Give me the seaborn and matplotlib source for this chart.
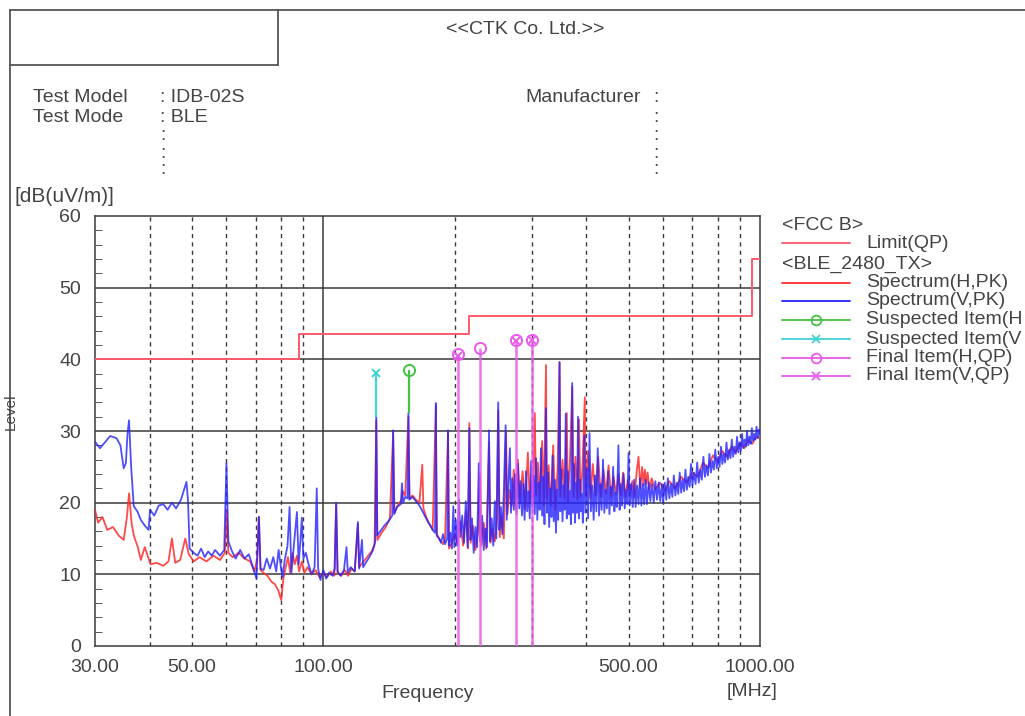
import numpy as np
import pandas as pd
import matplotlib
matplotlib.use("Agg")
import matplotlib.pyplot as plt
from matplotlib.lines import Line2D
from matplotlib.ticker import FixedLocator, NullLocator, MultipleLocator
import seaborn as sns

# limit line (FCC class B, QP), steps-post
limit_freq = [30.0, 88.0, 216.0, 960.0, 1000.0]
limit_level = [40.0, 43.5, 46.0, 54.0, 54.0]

# spectrum, vertical antenna (peak)
spec_v = [
    (30.0, 28.5), (30.8, 27.6), (31.6, 28.4), (32.5, 29.3), (33.6, 29.0), (34.3, 28.0), (34.9, 24.8),
    (35.3, 25.5), (35.6, 29.5), (35.9, 31.5), (36.3, 25.0), (36.8, 19.5), (37.5, 18.8), (38.2, 17.6),
    (39.0, 16.8), (39.8, 16.2), (40.1, 19.0), (41.0, 18.2), (42.0, 19.6), (43.0, 19.8), (44.0, 19.0),
    (45.0, 20.0), (46.0, 19.2), (47.2, 20.4), (48.6, 22.9), (49.0, 20.2), (49.4, 13.6), (50.5, 13.0),
    (51.5, 12.6), (52.5, 13.6), (53.5, 12.4), (54.5, 13.2), (55.5, 12.6), (56.5, 13.4), (58.0, 12.6),
    (59.3, 13.4), (60.0, 25.5), (60.6, 14.6), (61.8, 13.2), (63.0, 12.2), (64.5, 13.4), (66.0, 12.2),
    (67.5, 12.8), (69.0, 11.0), (70.3, 9.4), (71.2, 18.0), (71.8, 10.8), (73.0, 10.6), (74.2, 12.2),
    (75.5, 10.8), (76.8, 12.4), (78.0, 10.4), (79.0, 13.4), (79.8, 11.4), (80.6, 9.6), (81.6, 12.0),
    (82.8, 14.0), (83.7, 19.4), (84.5, 10.2), (85.5, 13.6), (87.0, 18.7), (87.8, 11.4), (88.6, 14.6),
    (89.3, 17.9), (90.0, 12.2), (91.2, 13.0), (92.5, 11.4), (94.0, 10.0), (95.5, 11.0), (96.6, 22.0),
    (97.3, 10.8), (98.5, 9.2), (100.0, 10.6), (101.5, 9.4), (103.0, 10.2), (105.0, 9.8), (106.2, 10.8),
    (107.0, 20.0), (107.8, 10.4), (109.5, 9.8), (111.5, 10.6), (113.0, 13.8), (113.8, 10.2), (115.5, 11.0),
    (118.0, 10.4), (120.0, 17.3), (120.8, 10.8), (122.6, 14.8), (123.4, 11.0), (125.0, 11.6), (127.5, 12.4),
    (130.0, 13.4), (131.5, 14.6), (132.2, 32.0), (132.9, 15.4), (135.0, 16.0), (138.0, 16.8), (141.0, 17.4),
    (143.8, 18.2), (144.5, 30.1), (145.3, 18.4), (147.5, 19.4), (150.5, 19.8), (151.4, 22.7), (152.3, 20.0),
    (154.0, 20.8), (155.8, 20.6), (156.6, 32.5), (157.4, 20.4), (160.0, 20.8), (163.0, 20.2), (166.0, 19.6),
    (168.0, 19.0), (170.0, 18.4), (172.0, 17.8), (174.0, 17.2), (176.0, 16.8), (178.0, 16.2), (180.2, 15.8),
    (181.0, 33.9), (181.8, 15.4), (184.0, 15.0), (186.0, 14.4), (188.0, 15.6), (190.0, 14.2), (192.2, 15.0),
    (193.0, 30.1), (193.8, 14.0), (195.5, 15.8), (197.0, 13.6), (198.5, 19.5), (199.5, 13.8), (201.0, 17.6),
    (202.5, 14.0), (204.5, 20.4), (206.0, 15.2), (208.0, 18.2), (210.0, 14.4), (212.0, 20.2), (214.0, 13.8),
    (216.0, 30.4), (217.2, 14.8), (219.0, 17.8), (221.0, 13.0), (223.0, 16.6), (225.0, 13.8), (227.0, 25.5),
    (228.6, 14.6), (231.0, 18.2), (233.0, 13.4), (235.0, 16.4), (237.0, 13.8), (239.6, 30.1), (241.0, 14.6),
    (243.0, 17.8), (245.0, 14.0), (247.0, 20.2), (249.0, 15.0), (251.5, 34.0), (253.0, 16.2), (255.0, 19.4),
    (257.0, 15.6), (259.0, 21.4), (261.5, 30.8), (263.0, 17.6), (265.0, 22.0), (267.5, 27.6), (269.0, 18.6),
    (271.0, 23.4), (273.0, 19.0), (275.0, 24.0), (277.0, 18.4), (279.0, 25.4), (281.0, 19.2), (283.0, 23.0),
    (285.0, 18.2), (287.0, 22.6), (289.0, 17.6), (291.0, 24.4), (293.0, 18.8), (295.0, 21.6), (297.0, 17.8),
    (299.0, 25.8), (301.0, 19.4), (303.0, 23.8), (305.0, 18.4), (307.0, 26.2), (309.0, 17.6), (311.0, 22.8),
    (313.0, 19.0), (315.0, 27.6), (317.0, 18.2), (319.0, 23.6), (321.0, 17.0), (323.5, 33.2), (325.0, 18.6),
    (327.0, 24.2), (329.0, 16.6), (331.0, 22.0), (333.0, 18.0), (335.0, 26.6), (337.0, 17.4), (339.0, 23.2),
    (341.0, 15.8), (343.0, 21.8), (345.0, 17.6), (347.5, 39.6), (349.0, 18.8), (351.0, 24.6), (353.0, 17.4),
    (355.0, 22.4), (357.0, 19.0), (359.0, 32.4), (361.0, 17.8), (363.0, 24.4), (365.0, 18.4), (367.0, 21.6),
    (369.0, 17.0), (371.5, 36.7), (373.0, 18.6), (375.0, 25.4), (377.0, 17.2), (379.0, 22.8), (381.0, 18.6),
    (383.0, 32.0), (385.0, 17.8), (387.0, 23.2), (389.0, 18.8), (391.0, 21.2), (393.0, 17.2), (396.0, 29.4),
    (398.0, 18.6), (401.0, 24.8), (404.0, 17.8), (407.0, 29.7), (410.0, 18.8), (413.0, 22.4), (416.0, 17.6),
    (419.0, 23.8), (422.0, 18.8), (425.0, 27.6), (428.0, 18.2), (431.0, 22.6), (434.0, 19.0), (437.0, 26.0),
    (440.0, 18.6), (443.0, 21.8), (446.0, 19.2), (449.0, 24.4), (452.0, 18.4), (455.0, 22.2), (458.0, 19.6),
    (461.0, 25.0), (464.0, 18.8), (467.0, 21.4), (470.0, 19.4), (474.0, 28.0), (477.0, 19.0), (480.0, 22.6),
    (483.0, 19.6), (487.0, 24.0), (490.0, 19.2), (494.0, 21.8), (497.0, 19.8), (500.0, 26.9), (503.0, 19.6),
    (507.0, 22.6), (511.0, 19.4), (515.0, 23.2), (519.0, 19.4), (523.0, 22.4), (527.0, 19.8), (531.0, 23.4),
    (535.0, 19.6), (539.0, 22.6), (543.0, 19.8), (547.0, 23.2), (551.0, 19.8), (556.0, 22.8), (561.0, 20.2),
    (566.0, 22.6), (571.0, 20.0), (576.0, 23.0), (581.0, 20.4), (586.0, 22.8), (591.0, 20.2), (596.0, 22.6),
    (600.0, 20.0), (605.0, 22.8), (610.0, 20.4), (615.0, 23.4), (620.0, 20.6), (625.0, 22.6), (630.0, 20.8),
    (635.0, 23.8), (640.0, 21.0), (645.0, 22.8), (650.0, 21.2), (655.0, 24.2), (660.0, 21.4), (665.0, 23.2),
    (670.0, 21.6), (675.0, 24.6), (680.0, 21.8), (685.0, 23.6), (690.0, 22.2), (695.0, 25.4), (700.0, 22.4),
    (706.0, 24.2), (712.0, 22.6), (718.0, 25.6), (724.0, 22.8), (730.0, 24.6), (736.0, 23.2), (742.0, 26.4),
    (748.0, 23.6), (754.0, 25.2), (760.0, 23.8), (766.0, 26.8), (772.0, 24.2), (778.0, 25.8), (784.0, 24.6),
    (790.0, 27.4), (796.0, 24.8), (802.0, 26.4), (808.0, 25.0), (814.0, 27.8), (820.0, 25.4), (826.0, 26.8),
    (832.0, 25.6), (838.0, 28.4), (844.0, 26.0), (850.0, 27.4), (856.0, 26.2), (862.0, 28.8), (868.0, 26.4),
    (874.0, 27.8), (880.0, 26.8), (886.0, 29.2), (892.0, 27.0), (898.0, 28.4), (904.0, 27.2), (910.0, 29.6),
    (916.0, 27.6), (922.0, 28.8), (928.0, 27.8), (934.0, 30.0), (940.0, 28.0), (946.0, 29.2), (952.0, 28.2),
    (958.0, 30.4), (964.0, 28.6), (970.0, 29.6), (976.0, 28.8), (982.0, 30.6), (988.0, 29.0), (994.0, 30.2),
    (1000.0, 29.6),
]

# spectrum, horizontal antenna (peak)
spec_h = [
    (30.0, 19.0), (30.5, 17.2), (31.2, 18.0), (32.0, 16.2), (33.0, 16.6), (34.0, 15.4), (34.9, 14.8),
    (35.5, 18.0), (35.9, 21.3), (36.4, 17.0), (36.9, 15.2), (37.6, 13.8), (38.2, 12.0), (39.0, 13.8),
    (39.6, 12.6), (40.2, 11.4), (41.5, 11.6), (43.0, 11.2), (44.2, 11.8), (45.0, 15.0), (45.8, 11.6),
    (47.0, 12.0), (48.3, 15.0), (49.2, 12.8), (50.5, 11.8), (52.0, 12.4), (54.0, 11.8), (56.0, 12.6),
    (58.0, 12.0), (59.5, 13.0), (60.0, 19.0), (60.6, 13.0), (62.0, 12.4), (64.0, 13.0), (66.0, 12.2),
    (68.0, 11.8), (69.5, 10.4), (70.5, 12.0), (71.2, 18.0), (71.8, 10.6), (73.0, 10.2), (74.5, 9.8),
    (76.0, 9.0), (77.5, 8.6), (78.8, 7.8), (80.1, 6.4), (81.0, 9.4), (82.0, 11.0), (83.0, 12.4),
    (84.0, 10.2), (85.0, 13.0), (86.0, 11.4), (87.0, 12.6), (88.0, 10.4), (89.3, 11.8), (90.5, 10.2),
    (92.0, 11.0), (94.0, 10.0), (96.0, 10.6), (98.0, 9.6), (100.0, 10.2), (102.0, 9.6), (104.0, 10.4),
    (106.0, 9.8), (107.0, 20.0), (107.8, 10.2), (110.0, 9.8), (112.0, 10.6), (114.0, 9.8), (116.0, 10.8),
    (118.0, 10.4), (120.0, 17.0), (120.8, 11.0), (123.0, 11.6), (126.0, 12.4), (129.0, 13.2), (131.0, 14.2),
    (132.2, 31.5), (133.0, 14.8), (136.0, 15.8), (139.0, 16.6), (142.0, 17.8), (144.5, 29.8), (145.5, 18.6),
    (148.0, 19.6), (151.0, 20.4), (152.0, 21.6), (154.0, 21.0), (156.6, 32.0), (157.6, 20.6), (160.0, 21.0),
    (163.0, 20.4), (166.0, 20.0), (168.5, 25.3), (169.5, 19.2), (172.0, 18.0), (175.0, 17.0), (178.0, 16.2),
    (181.0, 33.5), (182.0, 15.6), (185.0, 14.8), (188.0, 14.2), (190.0, 15.0), (193.0, 29.8), (194.0, 13.6),
    (197.0, 14.4), (200.0, 15.6), (203.0, 14.2), (206.0, 17.4), (209.0, 14.0), (212.0, 18.8), (214.5, 13.6),
    (216.0, 31.1), (217.5, 14.4), (220.0, 16.8), (223.0, 13.4), (226.0, 15.8), (228.5, 24.0), (230.0, 14.0),
    (233.0, 17.2), (236.0, 13.6), (239.6, 28.4), (241.5, 14.4), (244.0, 16.4), (247.0, 14.6), (250.0, 17.6),
    (251.5, 32.9), (253.5, 15.2), (256.0, 18.2), (259.0, 15.0), (262.0, 30.0), (264.0, 18.4), (267.0, 21.8),
    (270.0, 19.6), (273.0, 24.6), (276.0, 19.0), (279.0, 26.0), (282.0, 20.2), (286.0, 24.4), (290.0, 19.0),
    (294.0, 27.0), (297.0, 20.2), (300.0, 24.0), (302.0, 20.6), (305.0, 32.5), (307.0, 21.0), (310.0, 25.6),
    (313.0, 20.0), (317.0, 28.6), (320.0, 19.6), (323.5, 39.2), (325.0, 20.4), (328.0, 25.2), (332.0, 19.6),
    (336.0, 28.0), (340.0, 19.0), (344.0, 24.8), (347.5, 39.6), (349.0, 20.8), (353.0, 26.0), (357.0, 20.6),
    (361.0, 32.5), (363.0, 20.0), (367.0, 25.6), (371.5, 36.2), (374.0, 20.8), (378.0, 26.4), (382.0, 20.4),
    (385.0, 31.6), (388.0, 20.8), (392.0, 24.6), (397.0, 34.7), (399.0, 21.0), (404.0, 27.2), (409.0, 20.6),
    (414.0, 25.4), (420.0, 21.0), (426.0, 26.4), (432.0, 20.8), (438.0, 24.6), (444.0, 21.2), (450.0, 25.2),
    (456.0, 20.8), (462.0, 23.6), (468.0, 21.2), (474.0, 24.0), (480.0, 21.0), (486.0, 24.2), (492.0, 20.8),
    (498.0, 23.2), (504.0, 21.2), (510.0, 23.0), (516.0, 20.8), (522.0, 24.4), (527.0, 26.4), (532.0, 22.0),
    (537.0, 25.0), (541.0, 22.4), (545.0, 24.6), (549.0, 22.6), (553.0, 24.2), (558.0, 21.8), (565.0, 23.4),
    (575.0, 21.8), (590.0, 22.8), (605.0, 21.6), (620.0, 23.0), (640.0, 22.0), (660.0, 23.6), (680.0, 22.8),
    (700.0, 24.2), (720.0, 23.6), (740.0, 25.6), (760.0, 24.8), (780.0, 26.6), (800.0, 25.8), (820.0, 27.2),
    (840.0, 26.4), (860.0, 27.8), (880.0, 27.0), (900.0, 28.4), (920.0, 27.6), (940.0, 28.8), (960.0, 28.2),
    (980.0, 29.2), (1000.0, 29.0),
]

# suspected items (peak) and final items (QP)
susp_h_freq = [156.8]
susp_h_level = [38.5]
susp_h_peak = [32.5]
susp_v_freq = [132.2]
susp_v_level = [38.1]
susp_v_peak = [32.0]
final_h_freq = [203.5, 228.5, 276.5, 300.5]
final_h_level = [40.7, 41.6, 42.7, 42.7]
final_v_freq = [203.5, 276.5, 300.5]
final_v_level = [40.5, 42.5, 42.7]

x_ticks = [30, 50, 100, 500, 1000]
x_tick_labels = ["30.00", "50.00", "100.00", "500.00", "1000.00"]
y_ticks = [0, 10, 20, 30, 40, 50, 60]
dash_grid = [40, 50, 60, 70, 80, 90, 200, 300, 400, 500, 600, 700, 800, 900]

RED = "#ff2a2a"
BLUE = "#2222ff"
LIMIT = "#ff5a6a"
GREEN = "#44c244"
CYAN = "#3fd3d3"
MAGENTA = "#e95be9"
GRID = "#3a3a3a"
TXT = "#444444"
FS = 14

sns.set_style("white")
plt.rcParams["font.family"] = ["Liberation Sans", "DejaVu Sans"]

W, H = 1025, 716
fig = plt.figure(figsize=(W / 100, H / 100), dpi=100)


def fx(x):
    return x / W


def fy(y):
    return 1 - y / H


ax = fig.add_axes([fx(95), fy(646), fx(760) - fx(95), fy(216) - fy(646)])
ax.set_xscale("log")
ax.set_xlim(30, 1000)
ax.set_ylim(0, 60)

# grid
for f in dash_grid:
    ax.axvline(f, color=GRID, lw=1.0, ls=(0, (3, 3)), zorder=1)
ax.axvline(100, color=GRID, lw=1.1, zorder=1)
for lv in [10, 20, 30, 40, 50]:
    ax.axhline(lv, color=GRID, lw=1.1, zorder=1)

# limit
sns.lineplot(x=limit_freq, y=limit_level, drawstyle="steps-post", color=LIMIT, lw=1.4,
             ax=ax, zorder=3, estimator=None, sort=False)

dh = pd.DataFrame(spec_h, columns=["freq", "level"])
dv = pd.DataFrame(spec_v, columns=["freq", "level"])
sns.lineplot(data=dh, x="freq", y="level", color=RED, lw=1.3, alpha=0.85, ax=ax,
             estimator=None, sort=False, zorder=4)
sns.lineplot(data=dv, x="freq", y="level", color=BLUE, lw=1.3, alpha=0.8, ax=ax,
             estimator=None, sort=False, zorder=5)

# suspected
ax.vlines(susp_v_freq, susp_v_peak, susp_v_level, color=CYAN, lw=1.6, zorder=6)
ax.plot(susp_v_freq, susp_v_level, ls="none", marker="x", ms=6, mew=1.4, color=CYAN, zorder=7)
ax.vlines(susp_h_freq, susp_h_peak, susp_h_level, color=GREEN, lw=1.6, zorder=6)
ax.plot(susp_h_freq, susp_h_level, ls="none", marker="o", ms=8, mew=1.4, mfc="none",
        color=GREEN, zorder=7)

# final
ax.vlines(final_h_freq, 0, final_h_level, color=MAGENTA, lw=1.8, alpha=0.85, zorder=6)
ax.plot(final_h_freq, final_h_level, ls="none", marker="o", ms=8, mew=1.4, mfc="none",
        color=MAGENTA, zorder=7)
ax.plot(final_v_freq, final_v_level, ls="none", marker="x", ms=6, mew=1.4,
        color=MAGENTA, zorder=7)

ax.xaxis.set_major_locator(FixedLocator(x_ticks))
ax.xaxis.set_minor_locator(NullLocator())
ax.set_xticklabels(x_tick_labels)
ax.set_yticks(y_ticks)
ax.yaxis.set_minor_locator(MultipleLocator(2))
ax.tick_params(axis="x", length=0, pad=9, labelsize=FS, labelcolor=TXT)
ax.tick_params(axis="y", which="major", direction="in", length=0, pad=10,
               labelsize=FS, labelcolor=TXT)
ax.tick_params(axis="y", which="minor", direction="in", length=5, color=GRID, left=True)
ax.set_xlabel("")
ax.set_ylabel("")
for s in ax.spines.values():
    s.set_color(GRID)
    s.set_linewidth(1.1)

# axis texts
fig.text(fx(14), fy(196), "[dB(uV/m)]", fontsize=15, color=TXT, va="center")
fig.text(fx(11), fy(412), "Level", fontsize=11, color=TXT, rotation=90, va="center", ha="center")
fig.text(fx(428), fy(693), "Frequency", fontsize=FS, color=TXT, ha="center", va="center")
fig.text(fx(752), fy(692), "[MHz]", fontsize=FS, color=TXT, ha="center", va="center")

# page frame
frame_kw = dict(color="#555555", lw=1.3, transform=fig.transFigure)
fig.add_artist(Line2D([fx(10), fx(10)], [fy(10), fy(716)], **frame_kw))
fig.add_artist(Line2D([fx(10), fx(1025)], [fy(10), fy(10)], **frame_kw))
fig.add_artist(Line2D([fx(278), fx(278)], [fy(10), fy(65)], **frame_kw))
fig.add_artist(Line2D([fx(10), fx(278)], [fy(65), fy(65)], **frame_kw))

# header
fig.text(fx(525), fy(30), "<<CTK Co. Ltd.>>", fontsize=FS, color=TXT, ha="center", va="center")
fig.text(fx(33), fy(97), "Test Model", fontsize=FS, color=TXT, va="center")
fig.text(fx(33), fy(117), "Test Mode", fontsize=FS, color=TXT, va="center")
fig.text(fx(160), fy(97), ": IDB-02S", fontsize=FS, color=TXT, va="center")
fig.text(fx(160), fy(117), ": BLE", fontsize=FS, color=TXT, va="center")
fig.text(fx(525), fy(97), "Manufacturer", fontsize=FS, color=TXT, va="center")
for yy in [136, 153, 170]:
    fig.text(fx(160), fy(yy), ":", fontsize=FS, color=TXT, va="center")
for yy in [97, 117, 136, 153, 170]:
    fig.text(fx(653), fy(yy), ":", fontsize=FS, color=TXT, va="center")

# legend (the two long labels run off the page in the original, shown as far as visible)
leg_items = [
    ("Limit(QP)", LIMIT, None, 243),
    ("Spectrum(H,PK)", RED, None, 283),
    ("Spectrum(V,PK)", BLUE, None, 301),
    ("Suspected Item(H", GREEN, "o", 320),
    ("Suspected Item(V", CYAN, "x", 339),
    ("Final Item(H,QP)", MAGENTA, "o", 358),
    ("Final Item(V,QP)", MAGENTA, "x", 376),
]
fig.text(fx(782), fy(226), "<FCC B>", fontsize=FS, color=TXT, va="center")
fig.text(fx(782), fy(264), "<BLE_2480_TX>", fontsize=FS, color=TXT, va="center")
for label, col, mk, yy in leg_items:
    ln = Line2D([fx(782), fx(816), fx(850)], [fy(yy)] * 3, color=col, lw=1.3,
                transform=fig.transFigure)
    if mk is not None:
        ln.set_marker(mk)
        ln.set_markevery([1])
        ln.set_markersize(7 if mk == "o" else 6)
        ln.set_markerfacecolor("none")
        ln.set_markeredgewidth(1.3)
    fig.add_artist(ln)
    fig.text(fx(866), fy(yy), label, fontsize=FS, color=TXT, va="center")

fig.savefig("out.png", dpi=100)
